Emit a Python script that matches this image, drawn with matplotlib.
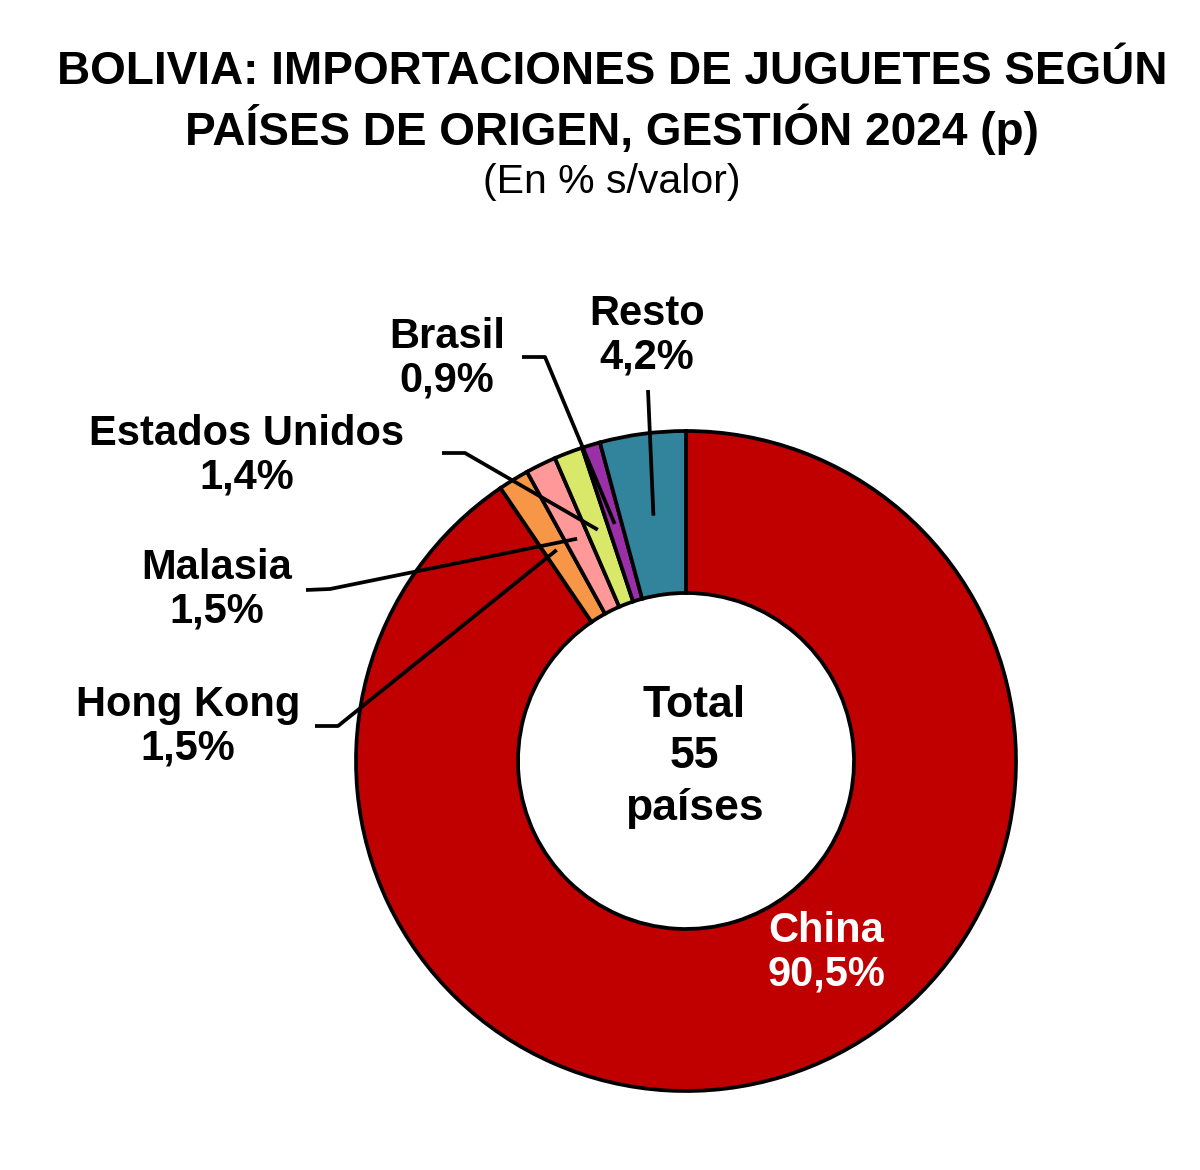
import matplotlib
matplotlib.use('Agg')
import matplotlib.pyplot as plt
import numpy as np

plt.rcParams['font.family'] = ['Liberation Sans', 'DejaVu Sans']

# data
countries = ['China', 'Hong Kong', 'Malasia', 'Estados Unidos', 'Brasil', 'Resto']
shares = [90.5, 1.5, 1.5, 1.4, 0.9, 4.2]
colors = ['#C00000', '#F79646', '#FF9999', '#D9E868', '#9B2FA8', '#31849B']
total_countries = 55

# layout (pixel coords, y measured from top)
W, H = 1200, 1170
cx, cy, R, hole = 686, 761, 330, 168
label_pos = {
    'China': (826, 953),
    'Hong Kong': (188, 727),
    'Malasia': (217, 590),
    'Estados Unidos': (247, 456),
    'Brasil': (447, 359),
    'Resto': (647, 336),
}
# leader line start and elbow
leaders = {
    'Hong Kong': [(315, 726), (338, 726)],
    'Malasia': [(306, 590), (330, 589)],
    'Estados Unidos': [(442, 453), (465, 453)],
    'Brasil': [(522, 357), (545, 357)],
    'Resto': [(648, 390)],
}

fig = plt.figure(figsize=(W / 100, H / 100), dpi=100)
ax = fig.add_axes([0, 0, 1, 1])

wedges, _ = ax.pie(shares, colors=colors, startangle=90, counterclock=False,
                   center=(cx, H - cy), radius=R, frame=True,
                   wedgeprops=dict(width=R - hole, edgecolor='black', linewidth=2.7))
ax.set_xlim(0, W)
ax.set_ylim(0, H)
ax.axis('off')

fmt = lambda v: f'{v:.1f}%'.replace('.', ',')

for name, v, w in zip(countries, shares, wedges):
    lx, ly = label_pos[name]
    col = 'white' if name == 'China' else 'black'
    ax.text(lx, H - ly, f'{name}\n{fmt(v)}', ha='center', va='center',
            fontsize=30, fontweight='bold', color=col, linespacing=1.12)
    if name in leaders:
        mid = np.deg2rad((w.theta1 + w.theta2) / 2)
        r = R * 0.75
        tip = (cx + r * np.cos(mid), (H - cy) + r * np.sin(mid))
        pts = [(x, H - y) for x, y in leaders[name]] + [tip]
        xs, ys = zip(*pts)
        ax.plot(xs, ys, color='black', lw=2.7, solid_capstyle='butt', zorder=5)

ax.text(694, H - 757, f'Total\n{total_countries}\npaíses', ha='center', va='center',
        fontsize=32, fontweight='bold', linespacing=1.33)

tx = 612 / W
fig.text(tx, 1 - 72 / H, 'BOLIVIA: IMPORTACIONES DE JUGUETES SEGÚN', ha='center', va='center',
         fontsize=33, fontweight='bold')
fig.text(tx, 1 - 129 / H, 'PAÍSES DE ORIGEN, GESTIÓN 2024 (p)', ha='center', va='center',
         fontsize=33, fontweight='bold')
fig.text(tx, 1 - 182 / H, '(En % s/valor)', ha='center', va='center', fontsize=29.5)

fig.savefig('out.png', dpi=100, facecolor='white')
plt.close()
